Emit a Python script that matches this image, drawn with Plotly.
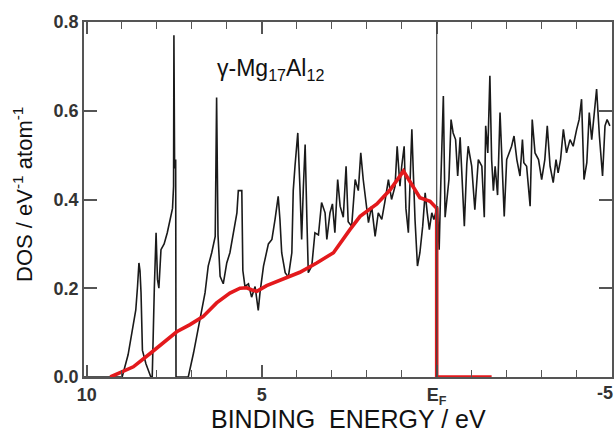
import plotly.graph_objects as go

# ---------------- data ----------------
energy_exp = [10.08, 8.99, 8.82, 8.68, 8.60, 8.55, 8.51, 8.48, 8.45, 8.41,
              8.31, 8.17, 8.13, 8.07, 8.02, 7.98, 7.94, 7.88, 7.79, 7.70,
              7.60, 7.55, 7.52, 7.51, 7.49, 7.46, 7.45, 7.10, 6.95, 6.76,
              6.62, 6.53, 6.43, 6.33, 6.29, 6.25, 6.19, 6.10, 6.00, 5.91,
              5.81, 5.71, 5.67, 5.57, 5.54, 5.48, 5.38, 5.29, 5.19, 5.10,
              5.05, 4.95, 4.81, 4.71, 4.62, 4.53, 4.48, 4.43, 4.33, 4.24,
              4.14, 4.10, 4.05, 3.97, 3.91, 3.86, 3.81, 3.76, 3.71, 3.67,
              3.57, 3.48, 3.38, 3.29, 3.19, 3.14, 3.05, 2.98, 2.91, 2.83,
              2.76, 2.67, 2.59, 2.53, 2.43, 2.33, 2.24, 2.17, 2.10, 2.02,
              1.95, 1.86, 1.76, 1.67, 1.57, 1.48, 1.38, 1.29, 1.19, 1.13,
              1.05, 1.00, 0.93, 0.88, 0.81, 0.74, 0.71, 0.67, 0.62, 0.55,
              0.48, 0.40, 0.33, 0.27, 0.21, 0.14, 0.08, -0.02, -0.07, -0.12,
              -0.19, -0.24, -0.29, -0.35, -0.41, -0.47, -0.54, -0.60, -0.67, -0.71,
              -0.79, -0.86, -0.90, -1.00, -1.09, -1.19, -1.29, -1.36, -1.40, -1.46,
              -1.52, -1.57, -1.62, -1.67, -1.74, -1.81, -1.86, -1.93, -2.00, -2.07,
              -2.14, -2.21, -2.29, -2.38, -2.45, -2.49, -2.57, -2.67, -2.73, -2.81,
              -2.91, -3.00, -3.09, -3.16, -3.24, -3.33, -3.41, -3.47, -3.54, -3.62,
              -3.71, -3.81, -3.90, -4.00, -4.07, -4.14, -4.21, -4.29, -4.36, -4.43,
              -4.49, -4.57, -4.65, -4.74, -4.81, -4.87, -4.95]

dos_exp = [0, 0, 0.05, 0.11, 0.151, 0.204, 0.257, 0.24, 0.19, 0.06,
           0.03, 0, 0, 0.2, 0.325, 0.22, 0.2, 0.287, 0.3, 0.325,
           0.36, 0.38, 0.43, 0.77, 0.47, 0.49, 0, 0, 0.054, 0.129,
           0.19, 0.25, 0.28, 0.317, 0.63, 0.32, 0.227, 0.21, 0.257, 0.28,
           0.325, 0.37, 0.42, 0.42, 0.24, 0.204, 0.21, 0.18, 0.204, 0.15,
           0.19, 0.25, 0.30, 0.31, 0.355, 0.407, 0.355, 0.28, 0.235, 0.225,
           0.28, 0.42, 0.475, 0.55, 0.43, 0.31, 0.43, 0.524, 0.355, 0.235,
           0.25, 0.325, 0.32, 0.393, 0.37, 0.31, 0.37, 0.39, 0.325, 0.445,
           0.385, 0.36, 0.475, 0.35, 0.34, 0.445, 0.42, 0.505, 0.445, 0.385,
           0.348, 0.385, 0.317, 0.37, 0.355, 0.395, 0.445, 0.40, 0.43, 0.52,
           0.43, 0.475, 0.52, 0.38, 0.325, 0.49, 0.558, 0.465, 0.355, 0.25,
           0.28, 0.34, 0.415, 0.37, 0.332, 0.37, 0.355, 0.385, 0.287, 0.445,
           0.633, 0.36, 0.40, 0.445, 0.58, 0.55, 0.535, 0.453, 0.54, 0.46,
           0.34, 0.48, 0.52, 0.475, 0.377, 0.49, 0.475, 0.36, 0.566, 0.505,
           0.679, 0.49, 0.42, 0.475, 0.41, 0.596, 0.49, 0.362, 0.49, 0.505,
           0.52, 0.543, 0.49, 0.453, 0.535, 0.483, 0.475, 0.385, 0.58, 0.505,
           0.49, 0.445, 0.49, 0.566, 0.475, 0.438, 0.49, 0.46, 0.49, 0.558,
           0.505, 0.535, 0.52, 0.558, 0.58, 0.626, 0.445, 0.483, 0.596, 0.535,
           0.58, 0.649, 0.543, 0.453, 0.566, 0.58, 0.566]

energy_calc = [9.33, 8.67, 8.19, 7.71, 7.43, 7.05, 6.68, 6.29, 5.91, 5.62,
               5.43, 5.28, 5.14, 4.86, 4.39, 3.91, 3.43, 2.95, 2.48, 2.19,
               1.71, 1.33, 0.95, 0.67, 0.48, 0.19, 0.05, 0.0, 0.0, -1.57]
dos_calc = [0, 0.023, 0.053, 0.083, 0.102, 0.118, 0.136, 0.167, 0.189, 0.2,
            0.201, 0.196, 0.193, 0.206, 0.22, 0.236, 0.257, 0.28, 0.332, 0.362,
            0.39, 0.422, 0.464, 0.43, 0.404, 0.396, 0.385, 0.38, 0, 0]

x_tick_vals = [10, 5, 0, -5]
x_tick_text = ["10", "5", "E<sub>F</sub>", "-5"]
y_tick_vals = [0.0, 0.2, 0.4, 0.6, 0.8]
y_tick_text = ["0.0", "0.2", "0.4", "0.6", "0.8"]

# ---------------- figure ----------------
fig = go.Figure()
fig.add_trace(go.Scatter(x=energy_exp, y=dos_exp, mode="lines",
                         line=dict(color="#1a1a1a", width=1.6),
                         showlegend=False, hoverinfo="skip"))
fig.add_trace(go.Scatter(x=energy_calc, y=dos_calc, mode="lines",
                         line=dict(color="#e3191c", width=3.6),
                         showlegend=False, hoverinfo="skip"))

fig.add_shape(type="line", xref="x", yref="paper", x0=0, x1=0, y0=0, y1=1,
              line=dict(color="#444444", width=1.2))

axis_col = "#555555"
tick_font = dict(family="Liberation Sans, Arial, sans-serif", size=18,
                 color="#333333", weight="bold")

# the last label sits at the right border, so it is drawn right-aligned
axis_text = x_tick_text[:-1] + [""]

fig.update_xaxes(range=[10.08, -5.01], tickmode="array",
                 tickvals=x_tick_vals, ticktext=axis_text,
                 ticks="inside", ticklen=12, tickwidth=1.5, tickcolor=axis_col,
                 minor=dict(dtick=1, tick0=0, ticks="inside", ticklen=7,
                            tickwidth=1.3, tickcolor=axis_col),
                 showline=True, linecolor=axis_col, linewidth=1.5, mirror="ticks",
                 showgrid=False, zeroline=False, tickfont=tick_font,
                 ticklabelstandoff=1)
fig.update_yaxes(range=[0, 0.8], tickmode="array",
                 tickvals=y_tick_vals, ticktext=y_tick_text,
                 ticks="inside", ticklen=13, tickwidth=1.5, tickcolor=axis_col,
                 showline=True, linecolor=axis_col, linewidth=1.5, mirror="ticks",
                 showgrid=False, zeroline=False, tickfont=tick_font)

fig.add_annotation(text=x_tick_text[-1], xref="x", yref="paper",
                   x=x_tick_vals[-1], y=0, xanchor="right", yanchor="top",
                   xshift=3, yshift=-4, showarrow=False, font=tick_font)

fig.add_annotation(text="BINDING  ENERGY / eV", xref="paper", yref="paper",
                   x=0.5, y=-0.162, xanchor="center", yanchor="bottom",
                   showarrow=False,
                   font=dict(family="Liberation Sans, Arial, sans-serif", size=25, color="#111111"))
fig.add_annotation(text="DOS / eV<sup>-1</sup> atom<sup>-1</sup>", xref="paper", yref="paper",
                   x=-0.116, y=0.515, xanchor="center", yanchor="middle",
                   textangle=-90, showarrow=False,
                   font=dict(family="Liberation Sans, Arial, sans-serif", size=22, color="#111111"))
fig.add_annotation(text="γ-Mg<sub>17</sub>Al<sub>12</sub>", xref="paper", yref="paper",
                   x=0.353, y=0.865, xanchor="center", yanchor="middle",
                   showarrow=False,
                   font=dict(family="Liberation Sans, Arial, sans-serif", size=23, color="#111111"))

fig.update_layout(width=616, height=435,
                  margin=dict(l=84, r=4, t=22, b=58, autoexpand=False),
                  paper_bgcolor="white", plot_bgcolor="white")

fig.write_html("out.html", config={"displayModeBar": False},
               post_script="document.body.style.margin='0';document.body.style.overflow='hidden';")
